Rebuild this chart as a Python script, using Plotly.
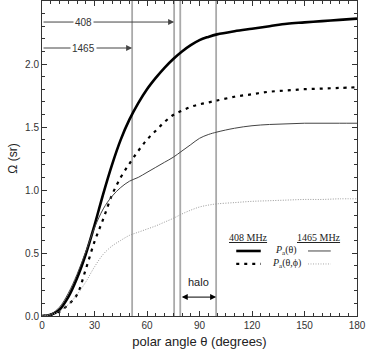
import plotly.graph_objects as go

theta = [0, 5, 10, 15, 20, 25, 30, 35, 40, 45, 50, 55, 60, 65, 70, 75, 80, 85, 90, 95,
         100, 110, 120, 130, 140, 150, 160, 170, 180]

# 408 MHz
pa_408 = [0, 0.01, 0.05, 0.15, 0.30, 0.49, 0.72, 0.97, 1.20, 1.40, 1.56, 1.69, 1.80, 1.89,
          1.97, 2.04, 2.10, 2.15, 2.19, 2.215, 2.235, 2.26, 2.28, 2.30, 2.32, 2.33, 2.34,
          2.35, 2.36]
paphi_408 = [0, 0.01, 0.035, 0.09, 0.17, 0.37, 0.59, 0.77, 0.96, 1.10, 1.21, 1.31, 1.40,
             1.47, 1.54, 1.595, 1.63, 1.66, 1.68, 1.695, 1.71, 1.74, 1.76, 1.78, 1.79, 1.80,
             1.805, 1.81, 1.815]

# 1465 MHz
pa_1465 = [0, 0.015, 0.07, 0.18, 0.33, 0.51, 0.70, 0.85, 0.95, 1.02, 1.07, 1.10, 1.14,
           1.18, 1.22, 1.26, 1.31, 1.36, 1.41, 1.44, 1.46, 1.49, 1.51, 1.52, 1.525, 1.53,
           1.53, 1.53, 1.53]
paphi_1465 = [0, 0.01, 0.04, 0.09, 0.17, 0.27, 0.39, 0.49, 0.555, 0.60, 0.64, 0.665, 0.69,
              0.715, 0.745, 0.775, 0.81, 0.84, 0.865, 0.88, 0.89, 0.90, 0.91, 0.915, 0.92,
              0.925, 0.925, 0.93, 0.93]

# beam edges and halo
vlines = [51.5, 75.5, 79, 99.5]
edge_408 = 75.5
edge_1465 = 51.5
halo = [79, 99.5]

fig = go.Figure()
fig.add_trace(go.Scatter(x=theta, y=pa_408, mode="lines", line_shape="spline",
                         line=dict(color="black", width=2.6)))
fig.add_trace(go.Scatter(x=theta, y=paphi_408, mode="lines", line_shape="spline",
                         line=dict(color="black", width=2.2, dash="3px,5px")))
fig.add_trace(go.Scatter(x=theta, y=pa_1465, mode="lines", line_shape="spline",
                         line=dict(color="#444", width=1)))
fig.add_trace(go.Scatter(x=theta, y=paphi_1465, mode="lines", line_shape="spline",
                         line=dict(color="#999", width=1, dash="1px,1.5px")))

for v in vlines:
    fig.add_shape(type="line", x0=v, x1=v, y0=0, y1=2.5, xref="x", yref="y",
                  line=dict(color="#aaa", width=1.8), layer="below")

gray = "#444"
# 408 / 1465 arrows
for xend, yv, txt in [(edge_408, 2.333, "408"), (edge_1465, 2.127, "1465")]:
    fig.add_annotation(x=xend, y=yv, ax=0, ay=yv, xref="x", yref="y", axref="x", ayref="y",
                       text="", showarrow=True, arrowhead=2, arrowsize=1.2, arrowwidth=1,
                       arrowcolor=gray)
    fig.add_annotation(x=23.5, y=yv, text=txt, showarrow=False, bgcolor="white",
                       font=dict(size=10, color="#333", family="Liberation Sans"))

# halo arrow
fig.add_annotation(x=halo[1], y=0.15, ax=halo[0], ay=0.15, xref="x", yref="y",
                   axref="x", ayref="y", text="", showarrow=True, arrowhead=2,
                   arrowside="end+start", arrowsize=1.2, arrowwidth=1, arrowcolor="black")
fig.add_annotation(x=(halo[0] + halo[1]) / 2, y=0.27, text="halo", showarrow=False,
                   font=dict(size=11, color="#222", family="Liberation Sans"))

# legend drawn by hand
tf = "Liberation Serif"
fig.add_annotation(x=118, y=0.62, text="<u>408 MHz</u>", showarrow=False,
                   font=dict(size=10, color="#222", family=tf))
fig.add_annotation(x=158.5, y=0.62, text="<u>1465 MHz</u>", showarrow=False,
                   font=dict(size=10, color="#222", family=tf))
fig.add_shape(type="line", x0=111, x1=125, y0=0.516, y1=0.516,
              line=dict(color="black", width=2.6))
fig.add_shape(type="line", x0=152, x1=165, y0=0.516, y1=0.516,
              line=dict(color="#444", width=1))
fig.add_shape(type="line", x0=111, x1=125, y0=0.413, y1=0.413,
              line=dict(color="black", width=2.2, dash="3px,5px"))
fig.add_shape(type="line", x0=152, x1=165, y0=0.413, y1=0.413,
              line=dict(color="#aaa", width=1, dash="1px,1.5px"))
fig.add_annotation(x=139.5, y=0.516, text="<i>P</i><sub>a</sub>(θ)", showarrow=False,
                   font=dict(size=10, color="#222", family=tf))
fig.add_annotation(x=139.5, y=0.413, text="<i>P</i><sub>a</sub>(θ,ϕ)", showarrow=False,
                   font=dict(size=10, color="#222", family=tf))

axis_common = dict(showline=True, linecolor="#333", linewidth=1, mirror="ticks",
                   ticks="inside", ticklen=5, tickcolor="#333", showgrid=False,
                   zeroline=False, automargin=False,
                   tickfont=dict(size=10, color="#333", family="Liberation Sans"))
fig.update_xaxes(range=[0, 180], dtick=30, tick0=0,
                 minor=dict(dtick=5, ticks="inside", ticklen=3, tickcolor="#333"),
                 title=dict(text="polar angle θ (degrees)", standoff=6,
                            font=dict(size=13, color="#222", family="Liberation Sans")),
                 **axis_common)
fig.update_yaxes(range=[0, 2.5], dtick=0.5, tick0=0, tickformat=".1f",
                 minor=dict(dtick=0.1, ticks="inside", ticklen=3, tickcolor="#333"),
                 title=dict(text="Ω (sr)", standoff=4,
                            font=dict(size=12, color="#222", family="Liberation Sans")),
                 **axis_common)
fig.update_layout(width=366, height=357, showlegend=False, plot_bgcolor="white",
                  paper_bgcolor="white", margin=dict(l=42, r=9, t=1, b=41))
# page body has a default 8px margin; drop it so the figure sits at the corner
fig.write_html("out.html", config={"displayModeBar": False},
               post_script="document.body.style.margin='0';")
